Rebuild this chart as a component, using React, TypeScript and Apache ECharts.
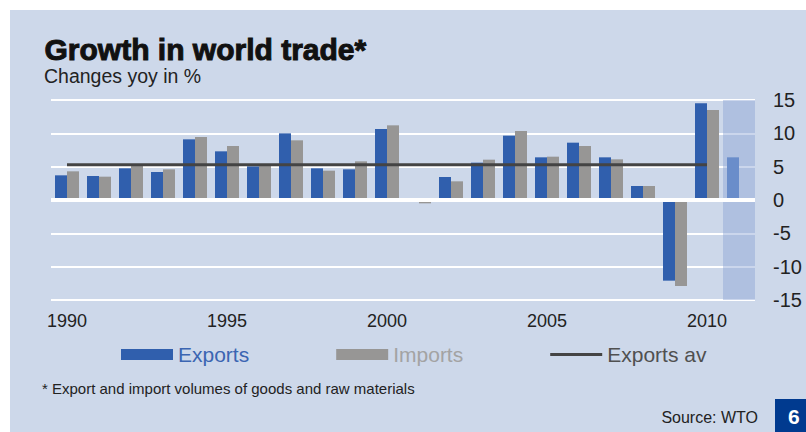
import React, { useEffect, useRef } from "react";
import * as echarts from "echarts";

const years = ["1990","1991","1992","1993","1994","1995","1996","1997","1998","1999","2000","2001","2002","2003","2004","2005","2006","2007","2008","2009","2010","2011"];
const exportsVals = [3.7, 3.6, 4.75, 4.2, 9.1, 7.3, 5.05, 10.0, 4.75, 4.6, 10.65, -0.2, 3.45, 5.6, 9.65, 6.4, 8.6, 6.4, 2.1, -12.1, 14.5, 6.4];
const importsVals = [4.3, 3.5, 5.25, 4.6, 9.45, 8.1, 5.15, 8.95, 4.4, 5.8, 11.2, -0.5, 2.8, 6.05, 10.35, 6.5, 8.1, 6.1, 2.1, -12.9, 13.5, null];
const exportsAvgVals = [5.3,5.3,5.3,5.3,5.3,5.3,5.3,5.3,5.3,5.3,5.3,5.3,5.3,5.3,5.3,5.3,5.3,5.3,5.3,5.3,5.3,null];
const forecastYear = "2011";
const highlightTop = [null,null,null,null,null,null,null,null,null,null,null,null,null,null,null,null,null,null,null,null,null,15];
const highlightBottom = [null,null,null,null,null,null,null,null,null,null,null,null,null,null,null,null,null,null,null,null,null,-15];
const xTickYears = ["1990", "1995", "2000", "2005", "2010"];

const FONT = "'Liberation Sans', Arial, sans-serif";

export default function App() {
  const ref = useRef<HTMLDivElement>(null);
  useEffect(() => {
    if (!ref.current) return;
    const chart = echarts.init(ref.current, null, { renderer: "svg" });
    const exportsData = exportsVals.map((v, i) =>
      years[i] === forecastYear ? { value: v, itemStyle: { color: "#6a8dca" } } : v
    );
    chart.setOption({
      animation: false,
      backgroundColor: "transparent",
      textStyle: { fontFamily: FONT },
      grid: { left: 51, top: 100, width: 704, height: 200, containLabel: false },
      xAxis: [
        {
          type: "category",
          data: years,
          axisLine: { show: false },
          axisTick: { show: false },
          axisLabel: {
            interval: 0,
            formatter: (v: string) => (xTickYears.includes(v) ? v : ""),
            fontSize: 18,
            color: "#222",
            margin: 12,
            fontFamily: FONT,
          },
        },
        { type: "category", data: years, show: false },
      ],
      yAxis: {
        type: "value",
        position: "right",
        min: -15,
        max: 15,
        interval: 5,
        axisLine: { show: false },
        axisTick: { show: false },
        axisLabel: { fontSize: 20, color: "#222", margin: 18, align: "left", fontFamily: FONT },
        splitLine: { lineStyle: { color: "#ffffff", width: 2 } },
      },
      legend: {
        left: 121,
        top: 344,
        padding: 0,
        itemWidth: 52,
        itemHeight: 11,
        itemGap: 87,
        textStyle: { fontSize: 21, fontFamily: FONT },
        data: [
          { name: "Exports", icon: "rect", textStyle: { color: "#3b65b2" } },
          { name: "Imports", icon: "rect", textStyle: { color: "#a3a3a3" } },
          {
            name: "Exports av",
            icon: "path://M0,0 M0,4 L52,4 L52,7 L0,7 Z M52,11",
            itemStyle: { color: "#444444", borderWidth: 0 },
            textStyle: { color: "#505050" },
          },
        ],
        selectedMode: false,
      },
      series: [
        {
          name: "highlightTop",
          type: "bar",
          xAxisIndex: 1,
          stack: "hl",
          data: highlightTop,
          barWidth: "100%",
          itemStyle: { color: "rgba(140,165,212,0.45)" },
          silent: true,
          z: 1,
        },
        {
          name: "highlightBottom",
          type: "bar",
          xAxisIndex: 1,
          stack: "hl",
          data: highlightBottom,
          barWidth: "100%",
          itemStyle: { color: "rgba(140,165,212,0.45)" },
          silent: true,
          z: 1,
        },
        {
          name: "Exports",
          type: "bar",
          data: exportsData,
          barWidth: 12,
          barGap: "0%",
          itemStyle: { color: "#305fad" },
          markLine: {
            silent: true,
            symbol: "none",
            label: { show: false },
            lineStyle: { color: "#ffffff", width: 4, type: "solid" },
            data: [{ yAxis: 0 }],
          },
        },
        {
          name: "Imports",
          type: "bar",
          data: importsVals,
          barWidth: 12,
          barGap: "0%",
          itemStyle: { color: "#979695" },
        },
        {
          name: "Exports av",
          type: "line",
          data: exportsAvgVals,
          symbol: "none",
          lineStyle: { color: "#444444", width: 3 },
          itemStyle: { color: "#444444" },
          z: 5,
        },
      ],
      graphic: [
        {
          type: "text",
          left: 44,
          top: 34,
          z: 100,
          style: {
            text: "Growth in world trade*",
            font: "bold 30px 'Liberation Sans', Arial, sans-serif",
            fill: "#111",
            stroke: "#111",
            lineWidth: 1,
          },
        },
        {
          type: "text",
          left: 44,
          top: 66,
          z: 100,
          style: { text: "Changes yoy in %", font: "19.5px 'Liberation Sans', Arial, sans-serif", fill: "#222" },
        },
        {
          type: "text",
          left: 42,
          top: 381,
          z: 100,
          style: { text: "* Export and import volumes of goods and raw materials", font: "15px 'Liberation Sans', Arial, sans-serif", fill: "#222" },
        },
        {
          type: "text",
          right: 48,
          top: 409,
          z: 100,
          style: { text: "Source: WTO", font: "16px 'Liberation Sans', Arial, sans-serif", fill: "#222" },
        },
        {
          type: "rect",
          right: 0,
          top: 399,
          z: 100,
          shape: { width: 31, height: 33 },
          style: { fill: "#003a8f" },
        },
        {
          type: "text",
          left: 788,
          top: 406,
          z: 101,
          style: { text: "6", font: "bold 21px 'Liberation Sans', Arial, sans-serif", fill: "#ffffff" },
        },
      ],
    });
    return () => chart.dispose();
  }, []);

  return (
    <div style={{ position: "fixed", left: 0, top: 0, width: 806, height: 432, background: "#ffffff" }}>
      <div style={{ position: "absolute", left: 10, top: 10, right: 0, bottom: 0, background: "#cdd8ea" }} />
      <div ref={ref} style={{ position: "absolute", left: 0, top: 0, width: 806, height: 432 }} />
    </div>
  );
}
